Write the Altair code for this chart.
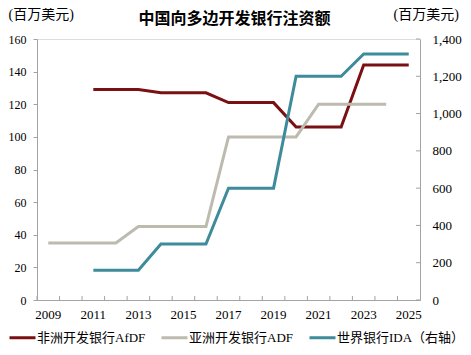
import altair as alt
import pandas as pd

# ---- data ----
years = list(range(2009, 2026))
afdf_years = list(range(2011, 2026))
afdf_vals = [129, 129, 129, 127, 127, 127, 121, 121, 121, 106, 106, 106, 144, 144, 144]
adf_years = list(range(2009, 2025))
adf_vals = [35, 35, 35, 35, 45, 45, 45, 45, 100, 100, 100, 100, 120, 120, 120, 120]
ida_years = list(range(2011, 2026))
ida_vals = [160, 160, 160, 300, 300, 300, 600, 600, 600, 1200, 1200, 1200, 1320, 1320, 1320]
series_names = ["非洲开发银行AfDF", "亚洲开发银行ADF", "世界银行IDA（右轴）"]
series_colors = ["#7A1012", "#BDBAAE", "#3D8B9B"]
left_ticks = [0, 20, 40, 60, 80, 100, 120, 140, 160]
right_ticks = [0, 200, 400, 600, 800, 1000, 1200, 1400]
title_text = "中国向多边开发银行注资额"
unit_text = "(百万美元)"

W, H = 383, 261
GRAY = "#A3A3A3"
FONT = "Liberation Serif, Noto Sans CJK SC"

left_df = pd.DataFrame(
    {"year": afdf_years + adf_years,
     "value": afdf_vals + adf_vals,
     "series": [series_names[0]] * len(afdf_years) + [series_names[1]] * len(adf_years)}
)
right_df = pd.DataFrame(
    {"year": ida_years, "value": ida_vals, "series": [series_names[2]] * len(ida_years)}
)
xt_df = pd.DataFrame({"year": years})
rt_df = pd.DataFrame({"value": right_ticks})

x_scale = alt.Scale(domain=years, paddingInner=0, paddingOuter=0)
x_axis = alt.Axis(title=None, labelAngle=0, ticks=False, grid=False, domainColor=GRAY,
                  labelExpr="datum.value % 2 == 1 ? datum.label : ''", labelOverlap=False,
                  labelFont=FONT, labelFontSize=13, labelPadding=8, labelColor="#000")

color_enc = alt.Color(
    "series:N",
    scale=alt.Scale(domain=series_names, range=series_colors),
    legend=alt.Legend(orient="none", legendX=-29, legendY=284, direction="horizontal",
                      title=None, symbolType="stroke", symbolSize=676, symbolStrokeWidth=3,
                      labelFont=FONT, labelFontSize=13, labelColor="#000", labelOffset=0,
                      columnPadding=9, labelLimit=300),
)

left_axis = alt.Axis(values=left_ticks, title=unit_text, titleAngle=0, titleX=-29, titleY=-25,
                     titleAlign="left", titleBaseline="middle", titleFont=FONT, titleFontSize=14,
                     titleFontWeight="normal", titleColor="#000",
                     grid=False, domainColor=GRAY, tickColor=GRAY, tickSize=4, labelPadding=7,
                     labelFont=FONT, labelFontSize=12, labelColor="#000")
right_axis = alt.Axis(orient="right", values=right_ticks, format=",.0f", title=unit_text,
                      titleAngle=0, titleX=-27, titleY=-25, titleAlign="left",
                      titleBaseline="middle", titleFont=FONT, titleFontSize=14,
                      titleFontWeight="normal", titleColor="#000",
                      grid=False, domainColor=GRAY, ticks=False, labelPadding=12,
                      labelFont=FONT, labelFontSize=13, labelColor="#000")

y_left = alt.Y("value:Q", scale=alt.Scale(domain=[0, 160]), axis=left_axis)
y_right = alt.Y("value:Q", scale=alt.Scale(domain=[0, 1400]), axis=right_axis)

left_lines = alt.Chart(left_df).mark_line(strokeWidth=3).encode(
    x=alt.X("year:O", scale=x_scale, axis=x_axis, bandPosition=0.5),
    y=y_left,
    color=color_enc,
)
x_ticks = alt.Chart(xt_df).mark_rule(color=GRAY, strokeWidth=1).encode(
    x=alt.X("year:O", scale=x_scale, axis=x_axis, bandPosition=0),
    y=alt.value(H - 4),
    y2=alt.value(H),
)
left_layer = alt.layer(x_ticks, left_lines)

right_line = alt.Chart(right_df).mark_line(strokeWidth=3).encode(
    x=alt.X("year:O", scale=x_scale, axis=x_axis, bandPosition=0.5),
    y=y_right,
    color=color_enc,
)
right_ticks_layer = alt.Chart(rt_df).mark_rule(color=GRAY, strokeWidth=1).encode(
    y=y_right,
    x=alt.value(W - 4),
    x2=alt.value(W),
)
right_layer = alt.layer(right_ticks_layer, right_line)

chart = alt.layer(left_layer, right_layer).resolve_scale(y="independent").properties(
    width=W,
    height=H,
    padding={"left": 29, "top": 31, "right": 43, "bottom": 47},
    autosize=alt.AutoSizeParams(type="none"),
    title=alt.TitleParams(title_text, font=FONT, fontSize=16, fontWeight="bold", color="#000",
                          anchor="middle", dx=6, offset=-20),
).configure_view(stroke=None).configure(background="white")

chart.save("out.html", embed_options={"renderer": "svg", "actions": False})
